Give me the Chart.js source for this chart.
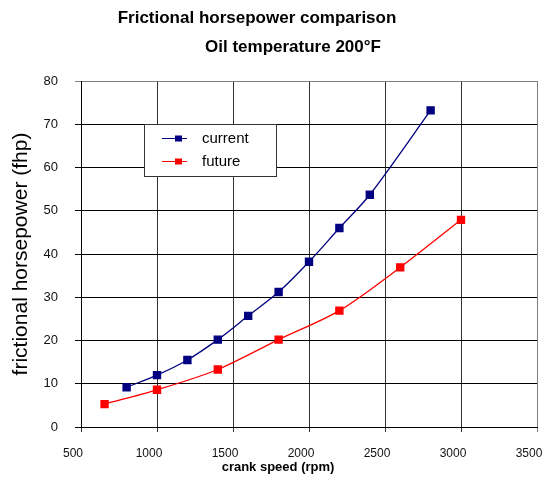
<!doctype html>
<html lang="en">
<head>
  <meta charset="utf-8">
  <title>Frictional horsepower comparison</title>
  <style>
    html, body { margin: 0; padding: 0; background: #fff; }
    .container { width: 544px; height: 485px; }
  </style>
</head>
<body>
  <div class="container">
    <canvas id="myChart" width="544" height="485"></canvas>
  </div>

  <script src="https://cdn.jsdelivr.net/npm/chart.js"></script>
  <script>
    // values
    const rpmCurrent = [800, 1000, 1200, 1400, 1600, 1800, 2000, 2200, 2400, 2800]
    const fhpCurrent = [9.2, 12.0, 15.5, 20.2, 25.7, 31.2, 38.2, 46.0, 53.7, 73.2]
    const rpmFuture = [655, 1000, 1400, 1800, 2200, 2600, 3000]
    const fhpFuture = [5.3, 8.6, 13.3, 20.2, 26.9, 36.9, 47.9]
    const seriesNames = ['current', 'future']
    const titleLines = ['Frictional horsepower comparison', 'Oil temperature 200°F']
    const xTitle = 'crank speed (rpm)'
    const yTitle = 'frictional horsepower (fhp)'

    const FONT = "'Liberation Sans', Arial, sans-serif"
    Chart.defaults.font.family = FONT
    Chart.defaults.color = '#000'

    function toPoints(xs, ys) {
      return xs.map((x, i) => ({ x: x, y: ys[i] }))
    }

    // titles, x axis title and boxed legend drawn on top
    const decorations = {
      id: 'decorations',
      afterDraw(chart) {
        const ctx = chart.ctx
        ctx.save()
        ctx.fillStyle = '#000'
        ctx.textAlign = 'center'
        ctx.textBaseline = 'middle'
        ctx.font = 'bold 17px ' + FONT
        ctx.fillText(titleLines[0], 257, 18)
        ctx.fillText(titleLines[1], 293, 47)
        ctx.font = 'bold 13px ' + FONT
        ctx.fillText(xTitle, 278, 467)

        // legend box
        ctx.fillStyle = '#fff'
        ctx.fillRect(144, 124.5, 132, 52)
        ctx.strokeStyle = '#333'
        ctx.lineWidth = 1
        ctx.strokeRect(144.5, 124.5, 132, 52)
        chart.data.datasets.forEach((ds, i) => {
          const y = i === 0 ? 138.5 : 161.5
          ctx.strokeStyle = ds.borderColor
          ctx.beginPath()
          ctx.moveTo(162, y)
          ctx.lineTo(187, y)
          ctx.stroke()
          ctx.fillStyle = ds.pointBackgroundColor
          ctx.fillRect(175, y - 3, 7, 6)
          ctx.fillStyle = '#000'
          ctx.textAlign = 'left'
          ctx.font = '15px ' + FONT
          ctx.fillText(ds.label, 202, y)
        })
        ctx.restore()
      }
    }

    const data = {
      datasets: [{
        label: seriesNames[0],
        data: toPoints(rpmCurrent, fhpCurrent),
        borderColor: '#000080',
        backgroundColor: '#000080',
        pointBackgroundColor: '#000080',
        pointBorderColor: '#000080',
        pointStyle: 'rect',
        pointRadius: 5,
        borderWidth: 1.3,
        tension: 0.3
      },
      {
        label: seriesNames[1],
        data: toPoints(rpmFuture, fhpFuture),
        borderColor: '#ff0000',
        backgroundColor: '#ff0000',
        pointBackgroundColor: '#ff0000',
        pointBorderColor: '#ff0000',
        pointStyle: 'rect',
        pointRadius: 5,
        borderWidth: 1.3,
        tension: 0.3
      }]
    }

    const config = {
      type: 'line',
      data,
      options: {
        responsive: false,
        animation: false,
        layout: {
          padding: { top: 81, right: 7, left: 0, bottom: 0 }
        },
        plugins: {
          legend: { display: false },
          title: { display: false },
          tooltip: { enabled: false }
        },
        scales: {
          x: {
            type: 'linear',
            min: 500,
            max: 3500,
            ticks: {
              stepSize: 500, padding: 14, labelOffset: -8, font: { size: 12 }, color: '#111',
              callback: v => String(v)
            },
            grid: {
              color: ctx => ctx.tick && ctx.tick.value === 3500 ? '#808080' : '#333',
              tickLength: 5
            },
            border: { color: '#000' },
            afterFit: scale => {
              scale.height = 58
              scale.paddingLeft = 0
              scale.paddingRight = 0
            }
          },
          y: {
            min: 0,
            max: 80,
            ticks: { stepSize: 10, padding: 17, font: { size: 13 }, color: '#111' },
            grid: {
              color: ctx => ctx.tick && ctx.tick.value === 80 ? '#808080' : '#000',
              tickLength: 6
            },
            border: { color: '#000' },
            title: {
              display: true,
              text: yTitle,
              font: { size: 21 },
              padding: { top: 9, bottom: 0 }
            },
            afterFit: scale => {
              scale.width = 81
              scale.paddingTop = 0
              scale.paddingBottom = 0
            }
          }
        }
      },
      plugins: [decorations]
    }

    const myChart = new Chart(document.getElementById('myChart'), config)
  </script>
</body>
</html>
